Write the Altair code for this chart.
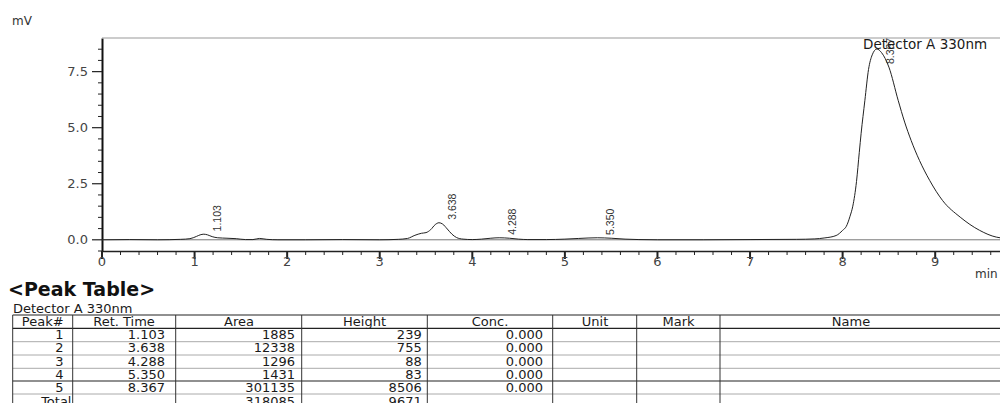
import altair as alt
import pandas as pd

# ---------------- data ----------------
TIME = [0.00, 0.30, 0.60, 0.85, 0.95, 1.02, 1.06, 1.10, 1.14, 1.19, 1.25, 1.35, 1.45,
        1.55, 1.63, 1.70, 1.78, 1.90, 2.20, 2.60, 3.00, 3.20, 3.30, 3.38, 3.45, 3.50,
        3.55, 3.60, 3.64, 3.68, 3.73, 3.78, 3.83, 3.90, 4.00, 4.10, 4.20, 4.29, 4.40,
        4.50, 4.60, 4.80, 5.00, 5.15, 5.35, 5.50, 5.65, 5.80, 6.00, 6.50, 7.00, 7.50,
        7.70, 7.80, 7.93, 8.00, 8.04, 8.08, 8.11, 8.15, 8.18, 8.20, 8.24, 8.28, 8.32,
        8.37, 8.42, 8.50, 8.60, 8.67, 8.74, 8.83, 8.94, 9.08, 9.27, 9.48, 9.66, 9.70]
SIGNAL = [0.00, 0.01, 0.00, 0.02, 0.05, 0.15, 0.22, 0.25, 0.22, 0.14, 0.09, 0.07, 0.05,
          0.01, 0.01, 0.06, 0.02, 0.00, 0.00, 0.01, 0.00, 0.02, 0.06, 0.20, 0.29, 0.32,
          0.45, 0.68, 0.76, 0.70, 0.48, 0.25, 0.10, 0.03, 0.01, 0.03, 0.07, 0.09, 0.07,
          0.03, 0.01, 0.01, 0.03, 0.06, 0.09, 0.07, 0.03, 0.01, 0.00, 0.00, 0.01, 0.02,
          0.04, 0.08, 0.19, 0.42, 0.60, 1.05, 1.50, 2.60, 3.90, 4.75, 6.20, 7.60, 8.25,
          8.51, 8.35, 7.70, 6.22, 5.25, 4.43, 3.54, 2.65, 1.75, 1.01, 0.42, 0.12, 0.09]

PEAK_NO = [1, 2, 3, 4, 5]
RET_TIME = [1.103, 3.638, 4.288, 5.350, 8.367]
AREA = [1885, 12338, 1296, 1431, 301135]
HEIGHT = [239, 755, 88, 83, 8506]
CONC = [0.000, 0.000, 0.000, 0.000, 0.000]
TOTAL_AREA = 318085
TOTAL_HEIGHT = 9671
HEADERS = ["Peak#", "Ret. Time", "Area", "Height", "Conc.", "Unit", "Mark", "Name"]

X_TICKS = [0.0, 0.2, 0.4, 0.6, 0.8, 1.0, 1.2, 1.4, 1.6, 1.8, 2.0, 2.2, 2.4, 2.6, 2.8,
           3.0, 3.2, 3.4, 3.6, 3.8, 4.0, 4.2, 4.4, 4.6, 4.8, 5.0, 5.2, 5.4, 5.6, 5.8,
           6.0, 6.2, 6.4, 6.6, 6.8, 7.0, 7.2, 7.4, 7.6, 7.8, 8.0, 8.2, 8.4, 8.6, 8.8,
           9.0, 9.2, 9.4, 9.6]
X_LABELS = [0, 1, 2, 3, 4, 5, 6, 7, 8, 9]
Y_TICKS = [-0.5, 0.0, 0.5, 1.0, 1.5, 2.0, 2.5, 3.0, 3.5, 4.0, 4.5, 5.0, 5.5, 6.0,
           6.5, 7.0, 7.5, 8.0, 8.5]
Y_LABELS = [0.0, 2.5, 5.0, 7.5]

# ---------------- layout ----------------
W, H = 898, 213
FONT = "DejaVu Sans"
TXT = "#1a1a1a"
AX = "#444"
X_DOMAIN = [0, 9.7]
Y_DOMAIN = [-0.5, 9.0]

trace = pd.DataFrame({"t": TIME, "mv": SIGNAL})
peaks = pd.DataFrame({
    "peak": PEAK_NO,
    "rt": RET_TIME,
    "h": [v / 1000 for v in HEIGHT],
    "label": [f"{v:.3f}" for v in RET_TIME],
})
one = pd.DataFrame({"a": [0]})

xscale = alt.Scale(domain=X_DOMAIN, nice=False, zero=False)
yscale = alt.Scale(domain=Y_DOMAIN, nice=False, zero=False)

x_axis = alt.Axis(title=None, grid=False, ticks=False, labels=False,
                  domainColor="#222", domainWidth=1.5)
y_axis = alt.Axis(title=None, grid=False, ticks=False, labels=False,
                  domainColor="#111", domainWidth=2)

line = alt.Chart(trace).mark_line(color="#222", strokeWidth=1, interpolate="monotone").encode(
    x=alt.X("t:Q", scale=xscale, axis=x_axis),
    y=alt.Y("mv:Q", scale=yscale, axis=y_axis),
    order="t:Q",
)
baseline = alt.Chart(one).mark_rule(color="#555", strokeWidth=0.8).encode(y=alt.datum(0.0))
top_border = alt.Chart(one).mark_rule(color="#999", strokeWidth=1).encode(y=alt.datum(9.0))

# ---- tick marks and tick labels (drawn from the tick lists) ----
x_major = "abs(datum.v - round(datum.v)) < 0.01"
y_major = "abs(datum.v / 2.5 - round(datum.v / 2.5)) < 0.01"
xt = pd.DataFrame({"v": X_TICKS})
yt = pd.DataFrame({"v": Y_TICKS})
xt_major = alt.Chart(xt).transform_filter(x_major).mark_rule(color="#222", strokeWidth=2).encode(
    x=alt.X("v:Q", scale=xscale), y=alt.value(H), y2=alt.value(H + 8))
xt_minor = alt.Chart(xt).transform_filter(f"!({x_major})").mark_rule(color="#222", strokeWidth=1).encode(
    x=alt.X("v:Q", scale=xscale), y=alt.value(H), y2=alt.value(H + 4))
yt_major = alt.Chart(yt).transform_filter(y_major).mark_rule(color="#222", strokeWidth=1.2).encode(
    y=alt.Y("v:Q", scale=yscale), x=alt.value(0), x2=alt.value(-10))
yt_minor = alt.Chart(yt).transform_filter(f"!({y_major})").mark_rule(color="#222", strokeWidth=1).encode(
    y=alt.Y("v:Q", scale=yscale), x=alt.value(0), x2=alt.value(-4))
x_labels = alt.Chart(pd.DataFrame({"v": X_LABELS})).transform_calculate(
    lab="format(datum.v, 'd')").mark_text(
    align="center", baseline="top", font=FONT, fontSize=13, color=AX).encode(
    x=alt.X("v:Q", scale=xscale), y=alt.value(H + 5), text="lab:N")
y_labels = alt.Chart(pd.DataFrame({"v": Y_LABELS})).transform_calculate(
    lab="format(datum.v, '.1f')").mark_text(
    align="right", baseline="middle", font=FONT, fontSize=13, color=AX).encode(
    y=alt.Y("v:Q", scale=yscale), x=alt.value(-14), text="lab:N")

lab_small = alt.Chart(peaks).transform_filter("datum.peak < 5").mark_text(
    angle=270, align="left", baseline="middle", dx=3, dy=14,
    font="Liberation Sans", fontSize=10.5, color="#333",
).encode(x=alt.X("rt:Q", scale=xscale), y=alt.Y("h:Q", scale=yscale), text="label:N")
lab_big = alt.Chart(peaks).transform_filter("datum.peak == 5").mark_text(
    angle=270, align="left", baseline="middle", dx=-15, dy=14,
    font="Liberation Sans", fontSize=10.5, color="#333",
).encode(x=alt.X("rt:Q", scale=xscale), y=alt.Y("h:Q", scale=yscale), text="label:N")


def free_text(txt, x, y, size=13, weight="normal", color=TXT, align="left"):
    return alt.Chart(one).mark_text(
        text=txt, align=align, baseline="alphabetic", font=FONT, fontSize=size,
        fontWeight=weight, color=color,
    ).encode(x=alt.value(x), y=alt.value(y))


det_plot = free_text("Detector A 330nm", 761, 10.5, size=13.5)
mv_lab = free_text("mV", -90, -13, size=12, color="#333")
min_lab = free_text("min", 873, 239.5, size=12, color="#333")
title = free_text("<Peak Table>", -94, 257.5, size=19, weight="bold", color="#111")
det_tab = free_text("Detector A 330nm", -89, 274.5, size=13)

# ---------------- peak table ----------------
table = pd.DataFrame({
    "row": [0, 1, 2, 3, 4, 5],
    "peak": [str(p) for p in PEAK_NO] + ["Total"],
    "rt": [f"{v:.3f}" for v in RET_TIME] + [""],
    "area": [str(v) for v in AREA] + [str(TOTAL_AREA)],
    "height": [str(v) for v in HEIGHT] + [str(TOTAL_HEIGHT)],
    "conc": [f"{v:.3f}" for v in CONC] + [""],
})
ROW0, ROWH = 297.0, 13.3


def col_text(field, xpos, filt=None):
    base = alt.Chart(table)
    if filt:
        base = base.transform_filter(filt)
    return base.transform_calculate(ry=f"{ROW0} + {ROWH} * datum.row").mark_text(
        align="right", baseline="middle", font=FONT, fontSize=13, color=TXT,
    ).encode(x=alt.value(xpos), y=alt.Y("ry:Q", scale=None), text=f"{field}:N")


header_df = pd.DataFrame({"h": HEADERS, "hx": [-59.3, 22, 137, 262.5, 388, 493, 576.5, 749]})
header = alt.Chart(header_df).mark_text(
    align="center", baseline="middle", font=FONT, fontSize=13, color=TXT,
).encode(x=alt.X("hx:Q", scale=None), y=alt.value(284), text="h:N")

cells = [
    col_text("peak", -38.5, "datum.row < 5"),
    col_text("peak", -30.5, "datum.row == 5"),
    col_text("rt", 63),
    col_text("area", 193),
    col_text("height", 319.7),
    col_text("conc", 441),
]

dark_h = alt.Chart(pd.DataFrame({"ly": [277, 290.3, 343]})).mark_rule(color="#222", strokeWidth=1.2).encode(
    y=alt.Y("ly:Q", scale=None), x=alt.value(-89.3), x2=alt.value(W))
light_h = alt.Chart(pd.DataFrame({"ly": [303.7, 317, 330.3, 356]})).mark_rule(color="#aaa", strokeWidth=1).encode(
    y=alt.Y("ly:Q", scale=None), x=alt.value(-89.3), x2=alt.value(W))
vlines = alt.Chart(pd.DataFrame({"lx": [-89.3, -29.3, 73.7, 199.7, 325.3, 450.7, 534.7, 618]})).mark_rule(
    color="#333", strokeWidth=1).encode(x=alt.X("lx:Q", scale=None), y=alt.value(277), y2=alt.value(380))

chart = alt.layer(
    top_border, baseline, line, xt_major, xt_minor, yt_major, yt_minor, x_labels, y_labels,
    lab_small, lab_big, det_plot, mv_lab, min_lab,
    title, det_tab, light_h, dark_h, vlines, header, *cells,
).properties(
    width=W, height=H,
    autosize=alt.AutoSizeParams(type="none"),
    padding={"left": 94, "top": 30, "right": 0, "bottom": 152},
).configure_view(stroke=None)

chart.save("out.html", embed_options={"renderer": "svg", "actions": False})
